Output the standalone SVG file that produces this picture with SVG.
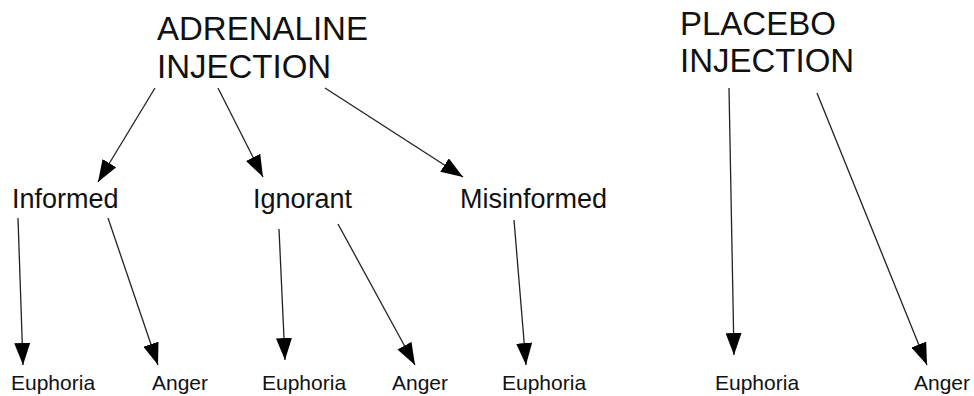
<svg xmlns="http://www.w3.org/2000/svg" width="974" height="396" viewBox="0 0 974 396">
<style>
text{font-family:"Liberation Sans",Arial,sans-serif;fill:#111}
.t{font-size:33px}
.m{font-size:27px}
.s{font-size:21px}
.c line{stroke:#222;stroke-width:1.3;marker-end:url(#ah)}
</style>
<defs>
<marker id="ah" markerUnits="userSpaceOnUse" markerWidth="22" markerHeight="16" refX="22" refY="8" orient="auto">
<path d="M0,0 L22,8 L0,16 z" fill="#000"/>
</marker>
</defs>
<rect width="974" height="396" fill="#fff"/>
<g id="adrenaline"><text class="t" x="157" y="40">ADRENALINE</text><text class="t" x="157" y="78">INJECTION</text></g>
<g id="placebo"><text class="t" x="680" y="35">PLACEBO</text><text class="t" x="680" y="72">INJECTION</text></g>
<g id="informed"><text class="m" x="12" y="208">Informed</text></g>
<g id="ignorant"><text class="m" x="253" y="208">Ignorant</text></g>
<g id="misinformed"><text class="m" x="460" y="208">Misinformed</text></g>
<g id="euphoria1"><text class="s" x="11" y="390">Euphoria</text></g>
<g id="anger1"><text class="s" x="152" y="390">Anger</text></g>
<g id="euphoria2"><text class="s" x="262" y="390">Euphoria</text></g>
<g id="anger2"><text class="s" x="392" y="390">Anger</text></g>
<g id="euphoria3"><text class="s" x="502" y="390">Euphoria</text></g>
<g id="euphoria4"><text class="s" x="715" y="390">Euphoria</text></g>
<g id="anger3"><text class="s" x="914" y="390">Anger</text></g>
<g class="c" id="connectors">
<line x1="155" y1="88" x2="98" y2="182"/>
<line x1="218" y1="88" x2="263" y2="177"/>
<line x1="325" y1="88" x2="463" y2="177"/>
<line x1="18" y1="218" x2="23" y2="365"/>
<line x1="108" y1="218" x2="158" y2="365"/>
<line x1="279" y1="229" x2="285" y2="360"/>
<line x1="338" y1="224" x2="415" y2="365"/>
<line x1="514" y1="220" x2="526" y2="365"/>
<line x1="729" y1="88" x2="734" y2="355"/>
<line x1="817" y1="93" x2="927" y2="365"/>
</g>
</svg>
